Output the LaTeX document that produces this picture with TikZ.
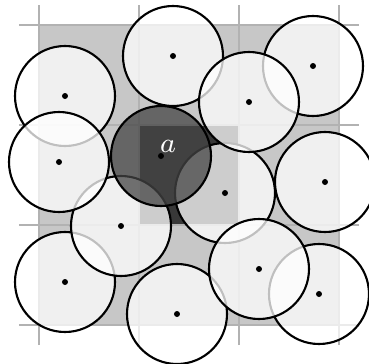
\documentclass[tikz,border=0pt]{standalone}
\begin{document}
\begin{tikzpicture}[scale=1.0,
  gridline/.style={black!30, line width=0.4pt},
  disk/.style={fill=white, fill opacity=0.75, draw=black, line width=0.6pt},
  darkdisk/.style={fill=black!73, fill opacity=0.75, draw=black, line width=0.6pt},
  centre/.style={fill=black}]
  \useasboundingbox (-0.39,-0.38) rectangle (3.30,3.25);

  % セル
  \fill[black!22] (0,0) rectangle (3,3);
  \fill[black!78] (1,1) rectangle (2,2);

  % グリッド
  \foreach \i in {0,...,3} {
    \draw[gridline] (\i,-0.2) -- (\i,3.2);
    \draw[gridline] (-0.2,\i) -- (3.2,\i);
  }

  % 中心
  \coordinate (c1) at (0.26,2.29);
  \coordinate (c2) at (1.34,2.69);
  \coordinate (c3) at (2.74,2.59);
  \coordinate (c4) at (2.10,2.23);
  \coordinate (c5) at (0.20,1.63);
  \coordinate (ca) at (1.22,1.69);
  \coordinate (c7) at (1.86,1.32);
  \coordinate (c8) at (2.86,1.43);
  \coordinate (c9) at (0.82,0.99);
  \coordinate (c10) at (0.26,0.43);
  \coordinate (c11) at (1.38,0.11);
  \coordinate (c12) at (2.20,0.56);
  \coordinate (c13) at (2.80,0.31);

  % 円
  \path[disk] (c1) circle (0.5);
  \path[disk] (c2) circle (0.5);
  \path[disk] (c3) circle (0.5);
  \path[disk] (c10) circle (0.5);
  \path[disk] (c9) circle (0.5);
  \path[disk] (c5) circle (0.5);
  \path[disk] (c7) circle (0.5);
  \path[disk] (c4) circle (0.5);
  \path[disk] (c8) circle (0.5);
  \path[disk] (c11) circle (0.5);
  \path[disk] (c13) circle (0.5);
  \path[disk] (c12) circle (0.5);
  \path[darkdisk] (ca) circle (0.5);

  % 点
  \foreach \c in {c1,c2,c3,c4,c5,ca,c7,c8,c9,c10,c11,c12,c13}
    \fill[centre] (\c) circle (0.03);

  % ラベル
  \node[text=white, font=\fontsize{8.5}{10}\selectfont] (la) at (1.29,1.79) {$a$};
\end{tikzpicture}
\end{document}
